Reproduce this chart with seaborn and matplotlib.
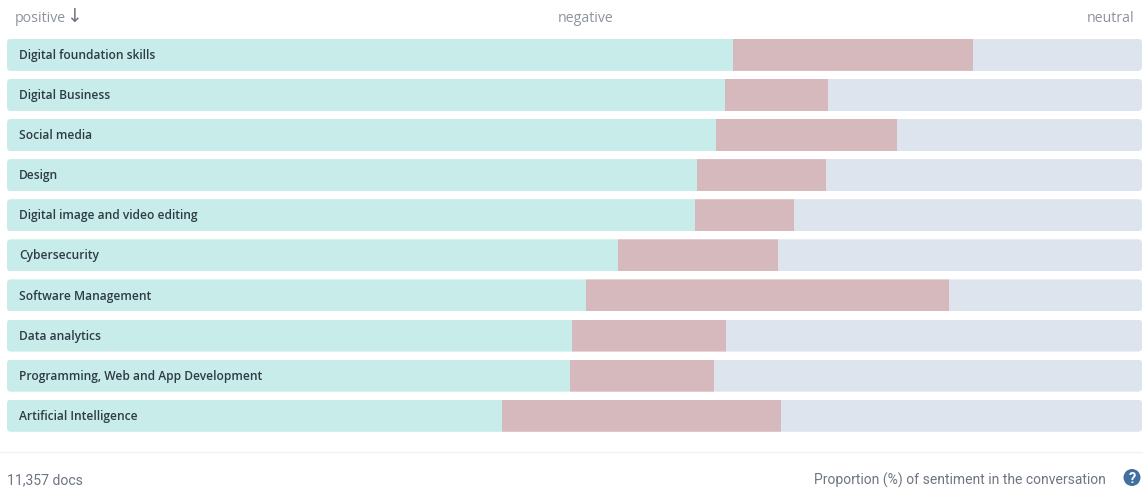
# -*- coding: utf-8 -*-
# Proportion of sentiment per topic, stacked horizontal bars
import pandas as pd
import seaborn as sns
import matplotlib.pyplot as plt
from matplotlib.lines import Line2D
from matplotlib.patches import Circle, FancyBboxPatch
from matplotlib.transforms import IdentityTransform, offset_copy

TOPICS = ['Digital foundation skills', 'Digital Business', 'Social media', 'Design',
          'Digital image and video editing', 'Cybersecurity', 'Software Management',
          'Data analytics', 'Programming, Web and App Development', 'Artificial Intelligence']
POSITIVE = [63.96, 63.26, 62.47, 60.79, 60.62, 53.83, 51.01, 49.78, 49.60, 43.61]
NEGATIVE = [21.15, 9.07, 15.95, 11.37, 8.72, 14.10, 31.98, 13.57, 12.69, 24.58]
NEUTRAL = [14.89, 27.67, 21.58, 27.84, 30.66, 32.07, 17.01, 36.65, 37.71, 31.81]

TEAL = '#C7ECEA'
RED = '#D6B9BD'
BLUE = '#DDE4EE'
W, H = 1143, 489

DATA = pd.DataFrame({'topic': TOPICS, 'positive': POSITIVE,
                     'negative': NEGATIVE, 'neutral': NEUTRAL})
DATA['neg_left'] = DATA['positive']
DATA['neu_left'] = DATA['positive'] + DATA['negative']

sns.set_theme(style='white')
plt.rcParams['font.family'] = ['Open Sans', 'DejaVu Sans']

FIG = plt.figure(figsize=(W / 100, H / 100), dpi=100)
AX = FIG.add_axes([7 / W, 1 - 436.8 / H, 1135 / W, 401 / H])

# three layers, each one starts where the previous one stops
sns.barplot(data=DATA, y='topic', x='positive', color=TEAL, width=0.8, saturation=1,
            linewidth=0, ax=AX)
sns.barplot(data=DATA, y='topic', x='negative', left=DATA['neg_left'], color=RED,
            width=0.8, saturation=1, linewidth=0, ax=AX)
sns.barplot(data=DATA, y='topic', x='neutral', left=DATA['neu_left'], color=BLUE,
            width=0.8, saturation=1, linewidth=0, ax=AX)
AX.set_xlim(0, 100)
AX.set_ylim(9.5, -0.5)
AX.axis('off')

# rounded ends: clip every bar with a rounded box of the whole row (in pixels)
FIG.canvas.draw()
N = len(TOPICS)
for i in range(N):
    rects = [AX.patches[i], AX.patches[i + N], AX.patches[i + 2 * N]]
    x0 = rects[0].get_window_extent().x0
    x1 = rects[2].get_window_extent().x1
    box = rects[0].get_window_extent()
    clip = FancyBboxPatch((x0 + 4, box.y0 + 4), x1 - x0 - 8, box.height - 8,
                          boxstyle='round,pad=4,rounding_size=4',
                          transform=IdentityTransform())
    for r in rects:
        r.set_clip_path(clip)

# topic names sit inside the bars
LABEL_TR = offset_copy(AX.get_yaxis_transform(), fig=FIG, x=12 * 0.72, y=0.3, units='points')
for i, topic in enumerate(TOPICS):
    AX.text(0, i, topic, transform=LABEL_TR, ha='left', va='center',
            fontsize=8.65, fontweight=600, color='#2F3B46')

# header
FIG.text(15 / W, 1 - 18 / H, 'positive', fontsize=10.2, color='#8D939C', va='center')
FIG.text(66 / W, 1 - 17.5 / H, '↓', fontsize=13.5, color='#6F7680', va='center')
FIG.text(585.5 / W, 1 - 18 / H, 'negative', fontsize=10.2, color='#8D939C', va='center', ha='center')
FIG.text(1134 / W, 1 - 18 / H, 'neutral', fontsize=10.2, color='#8D939C', va='center', ha='right')

# footer
FIG.add_artist(Line2D([0, 1], [1 - 452.5 / H] * 2, color='#F1F1F1', lw=1))
FIG.text(7 / W, 1 - 480 / H, '11,357 docs', fontsize=10.05, color='#6E7680', va='center',
         family='Roboto')
FIG.text(1106 / W, 1 - 480 / H, 'Proportion (%) of sentiment in the conversation', fontsize=10,
         color='#6E7680', va='center', ha='right', family='Roboto')
FIG.add_artist(Circle((1132, H - 478.5), 8.5, transform=IdentityTransform(),
                      color='#41709F', lw=0))
FIG.text(1132 / W, 1 - 479 / H, '?', fontsize=10.5, fontweight='bold', color='white',
         ha='center', va='center', family='Roboto')

FIG.savefig('out.png', dpi=100)
